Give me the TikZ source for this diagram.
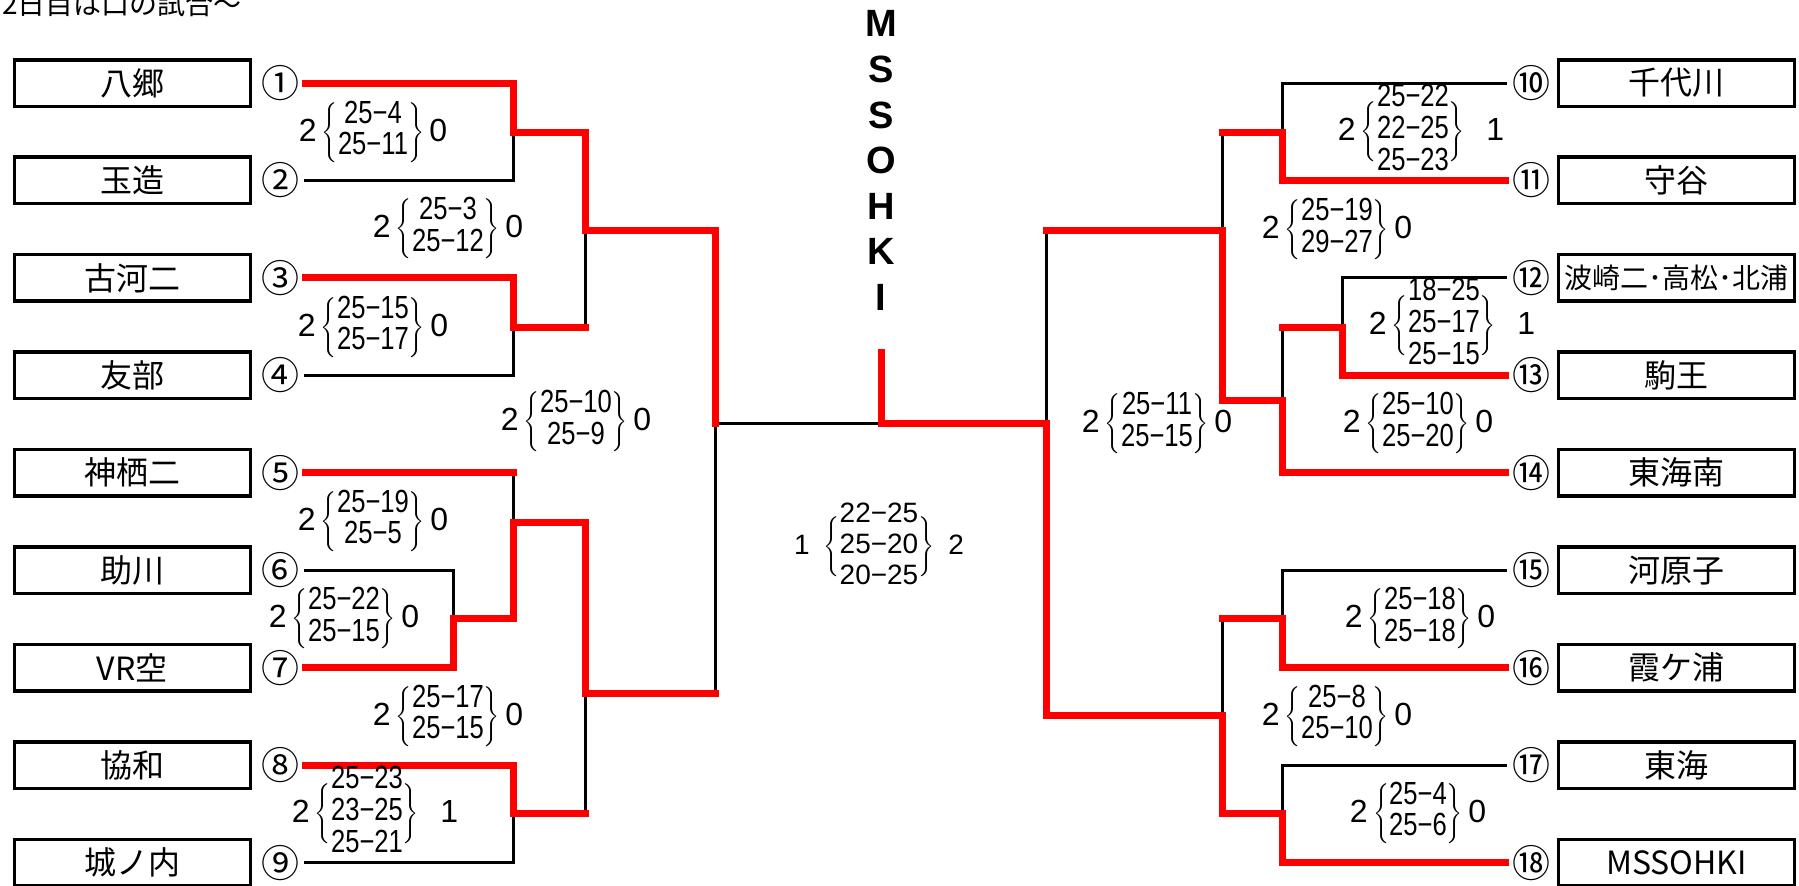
\documentclass[tikz,border=0pt]{standalone}
\usepackage{fontspec}
\setmainfont{Liberation Sans}
\newfontfamily\jpfont{Noto Sans CJK JP}
\newfontfamily\scorefont[FakeStretch=0.8]{Liberation Sans}
\usetikzlibrary{positioning}
\newcommand{\setscore}[3]{#1\,$\left\{\vcenter{\hbox{\rule{0pt}{31pt}}}\smash{\mbox{\scorefont\begin{tabular}{@{}c@{}}#2\end{tabular}}}\right\}$\,#3}

\begin{document}
\begin{tikzpicture}[x=0.5pt,y=-0.5pt,
    team/.style={draw,line width=1.75pt,minimum width=118pt,minimum height=23.25pt,inner sep=0pt,font=\jpfont\fontsize{16}{18}\selectfont},
    seed/.style={minimum width=25pt,inner sep=0pt,font=\jpfont\fontsize{19}{19}\selectfont},
    score/.style={inner sep=0pt,font=\fontsize{16}{15.5}\selectfont},
    win/.style={draw=red,line width=3.5pt,line cap=rect},
    lose/.style={draw=black,line width=1.5pt,line cap=rect}]

\useasboundingbox (0,0) rectangle (1799,885);

\node[anchor=base west,inner sep=0pt,font=\jpfont\fontsize{14}{14}\selectfont] (title) at (2,14) {2日目は口の試合～};

\foreach \i/\c/\name in {1/①/八郷, 2/②/玉造, 3/③/古河二, 4/④/友部, 5/⑤/神栖二, 6/⑥/助川, 7/⑦/VR空, 8/⑧/協和, 9/⑨/城ノ内} {
    \pgfmathsetmacro{\y}{83+97.45*(\i-1)}
    \node[team] (t\i) at (132.3,\y) {\name};
    \node[seed] (n\i) at (280,\y) {\c};
}
\foreach \i/\c/\name in {10/⑩/千代川, 11/⑪/守谷, 12/⑫/{\fontsize{14}{16}\selectfont 波崎二･高松･北浦}, 13/⑬/駒王, 14/⑭/東海南, 15/⑮/河原子, 16/⑯/霞ケ浦, 17/⑰/東海, 18/⑱/MSSOHKI} {
    \pgfmathsetmacro{\y}{83+97.45*(\i-10)}
    \node[team] (t\i) at (1676.5,\y) {\name};
    \node[seed] (n\i) at (1531,\y) {\c};
}

\coordinate (j12) at (513,132);
\coordinate (j34) at (513,327);
\coordinate (j14) at (585,230);
\coordinate (j57) at (513,522);
\coordinate (j67) at (453,618);
\coordinate (j89) at (513,813);
\coordinate (j58) at (585,693);
\coordinate (jL) at (715,423);
\coordinate (jC) at (881,423);
\coordinate (top) at (881,352);
\coordinate (jR) at (1046,423);
\coordinate (j1011) at (1282,132);
\coordinate (j1213) at (1342,327);
\coordinate (j1214) at (1282,400);
\coordinate (j1014) at (1222,230);
\coordinate (j1516) at (1282,618);
\coordinate (j1718) at (1282,813);
\coordinate (j1518) at (1222,715);

\draw[lose] (n2.east) -| (j12);
\draw[lose] (n4.east) -| (j34);
\draw[lose] (n6.east) -| (j67);
\draw[lose] (n9.east) -| (j89);
\draw[lose] (n5.east -| j57) -- (j57);
\draw[lose] (j34 -| j14) -- (j14);
\draw[lose] (j89 -| j58) -- (j58);
\draw[lose] (j58 -| jL) -- (jL) -- (jC);
\draw[lose] (n10.west) -| (j1011);
\draw[lose] (n12.west) -| (j1213);
\draw[lose] (n15.west) -| (j1516);
\draw[lose] (n17.west) -| (j1718);
\draw[lose] (j1011 -| j1014) -- (j1014);
\draw[lose] (j1213 -| j1214) -- (j1214);
\draw[lose] (j1516 -| j1518) -- (j1518);
\draw[lose] (j1014 -| jR) -- (jR);

\draw[win] (n1.east) -| (j12) -| (j14) -| (jL);
\draw[win] (n3.east) -| (j34) -- (j34 -| j14);
\draw[win] (n5.east) -- (n5.east -| j57);
\draw[win] (n7.east) -| (j67) -| (j57) -| (j58) -- (j58 -| jL);
\draw[win] (n8.east) -| (j89) -- (j89 -| j58);
\draw[win] (n11.west) -| (j1011) -- (j1011 -| j1014);
\draw[win] (n13.west) -| (j1213) -- (j1213 -| j1214);
\draw[win] (n14.west) -| (j1214) -| (j1014) -- (j1014 -| jR);
\draw[win] (n16.west) -| (j1516) -- (j1516 -| j1518);
\draw[win] (n18.west) -| (j1718) -| (j1518) -| (jR) -| (top);

\node[inner sep=0pt,font=\bfseries\fontsize{19}{22.8}\selectfont] (champ) at (881,164.5) {\begin{tabular}{@{}c@{}}M\\S\\S\\O\\H\\K\\I\end{tabular}};

\foreach \nm/\x/\y/\a/\sets/\b in {sA/373/132.5/2/{25−4\\25−11}/0, sB/448/229/2/{25−3\\25−12}/0, sC/373/327.5/2/{25−15\\25−17}/0, sD/576/422/2/{25−10\\25−9}/0, sE/373/521.5/2/{25−19\\25−5}/0, sF/344/619/2/{25−22\\25−15}/0, sG/448/716.5/2/{25−17\\25−15}/0, sH/375/814/2/{25−23\\23−25\\25−21}/{\enspace 1}, sI/1421/132/2/{25−22\\22−25\\25−23}/{\enspace 1}, sJ/1337/230/2/{25−19\\29−27}/0, sK/1452/326/2/{18−25\\25−17\\25−15}/{\enspace 1}, sL/1418/424/2/{25−10\\25−20}/0, sM/1157/424/2/{25−11\\25−15}/0, sN/1420/619/2/{25−18\\25−18}/0, sO/1337/716.5/2/{25−8\\25−10}/0, sP/1418/813.5/2/{25−4\\25−6}/0} {
    \node[score] (\nm) at (\x,\y) {\setscore{\a}{\sets}{\b}};
}
\node[score,font=\fontsize{14}{15.5}\selectfont] (final) at (879,547) {1\enspace$\left\{\vcenter{\hbox{\rule{0pt}{29pt}}}\smash{\mbox{\begin{tabular}{@{}c@{}}22−25\\25−20\\20−25\end{tabular}}}\right\}$\enspace 2};
\end{tikzpicture}
\end{document}
